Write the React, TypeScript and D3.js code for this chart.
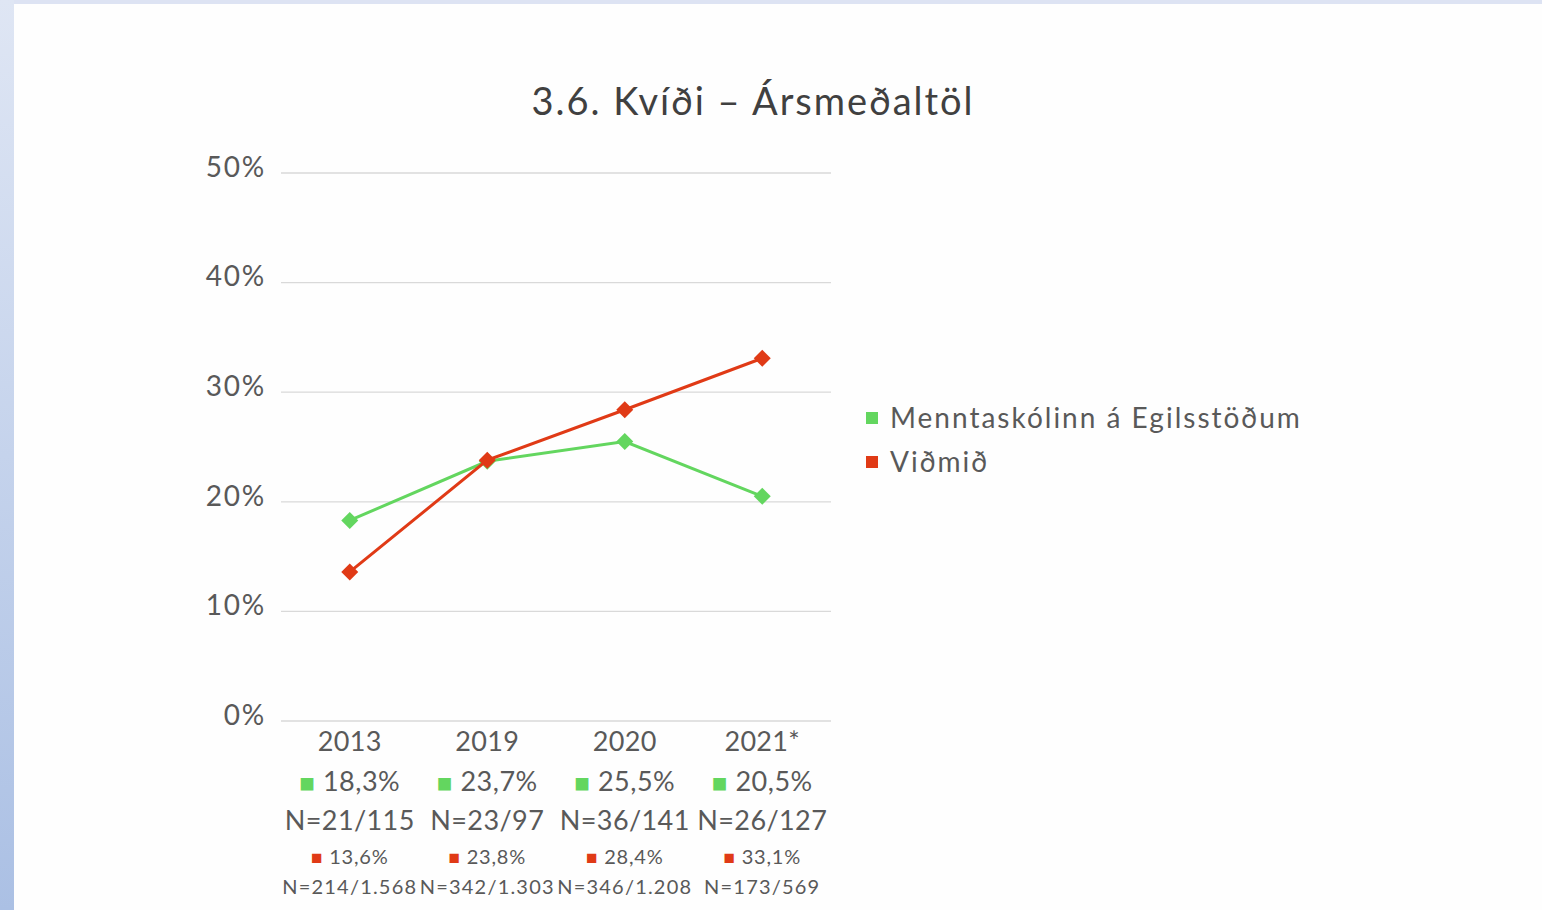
import React from "react";
import * as d3 from "d3";

const years = ["2013", "2019", "2020", "2021*"];
const schoolValues = [18.3, 23.7, 25.5, 20.5];
const schoolLabels = ["18,3%", "23,7%", "25,5%", "20,5%"];
const schoolN = ["N=21/115", "N=23/97", "N=36/141", "N=26/127"];
const refValues = [13.6, 23.8, 28.4, 33.1];
const refLabels = ["13,6%", "23,8%", "28,4%", "33,1%"];
const refN = ["N=214/1.568", "N=342/1.303", "N=346/1.208", "N=173/569"];
const yTicks = [0, 10, 20, 30, 40, 50];
const seriesNames = ["Menntaskólinn á Egilsstöðum", "Viðmið"];

const GREEN = "#63d65f";
const RED = "#e03a16";
const TEXT = "#595959";
const FONT = "Lato, 'Open Sans', sans-serif";

export default function App() {
  const W = 1542, H = 910;
  const x = d3.scaleBand<string>().domain(years).range([281, 831]);
  const y = d3.scaleLinear().domain([0, 50]).range([721, 173]);
  const cx = (d: string) => (x(d) as number) + x.bandwidth() / 2;
  const line = d3.line<number>().x((_, i) => cx(years[i])).y((v) => y(v));
  const diamond = d3.symbol().type(d3.symbolSquare).size(145)();

  const series = [
    { name: seriesNames[0], values: schoolValues, color: GREEN },
    { name: seriesNames[1], values: refValues, color: RED },
  ];

  return (
    <svg width={W} height={H} style={{ position: "fixed", left: 0, top: 0 }} fontFamily={FONT}>
      <defs>
        <linearGradient id="side" x1="0" y1="0" x2="0" y2="1">
          <stop offset="0" stopColor="#dfe6f4" />
          <stop offset="1" stopColor="#abc0e4" />
        </linearGradient>
      </defs>
      <rect x={0} y={0} width={W} height={H} fill="#fefefe" />
      <rect x={0} y={0} width={W} height={4} fill="#dde3f3" />
      <rect x={0} y={0} width={14} height={H} fill="url(#side)" />

      <text x={753} y={115} textAnchor="middle" fontSize={38} letterSpacing={2} fill="#404040">
        3.6. Kvíði – Ársmeðaltöl
      </text>

      {yTicks.map((t) => (
        <g key={t}>
          <line x1={281} x2={831} y1={y(t)} y2={y(t)} stroke="#d9d9d9" strokeWidth={1.3} />
          <text x={266} y={y(t) - 6} dy="0.35em" textAnchor="end" fontSize={28} letterSpacing={1.8} fill={TEXT}>
            {t}%
          </text>
        </g>
      ))}

      {years.map((yr, i) => (
        <g key={yr} textAnchor="middle" fill={TEXT}>
          <text x={cx(yr)} y={751} fontSize={27} letterSpacing={0.3}>{yr}</text>
          <text x={cx(yr)} y={791} fontSize={27} letterSpacing={0.5}>
            <tspan fill={GREEN} fontSize={26} dy={1}>■</tspan>
            <tspan dy={-1}> {schoolLabels[i]}</tspan>
          </text>
          <text x={cx(yr)} y={830} fontSize={27} letterSpacing={0.4}>{schoolN[i]}</text>
          <text x={cx(yr)} y={864} fontSize={20} letterSpacing={0.8}>
            <tspan fill={RED} fontSize={19}>■</tspan>
            <tspan> {refLabels[i]}</tspan>
          </text>
          <text x={cx(yr)} y={894} fontSize={20} letterSpacing={1.2}>{refN[i]}</text>
        </g>
      ))}

      {series.map((s) => (
        <g key={s.name}>
          <path d={line(s.values) || ""} fill="none" stroke={s.color} strokeWidth={3} />
          {s.values.map((v, i) => (
            <path
              key={i}
              d={diamond || ""}
              transform={`translate(${cx(years[i])},${y(v)}) rotate(45)`}
              fill={s.color}
            />
          ))}
        </g>
      ))}

      {series.map((s, i) => (
        <g key={s.name} transform={`translate(866,${418 + i * 44})`}>
          <rect x={0} y={-6} width={12} height={12} fill={s.color} />
          <text x={24} y={0} dy="0.35em" fontSize={28} letterSpacing={2} fill={TEXT}>{s.name}</text>
        </g>
      ))}
    </svg>
  );
}
